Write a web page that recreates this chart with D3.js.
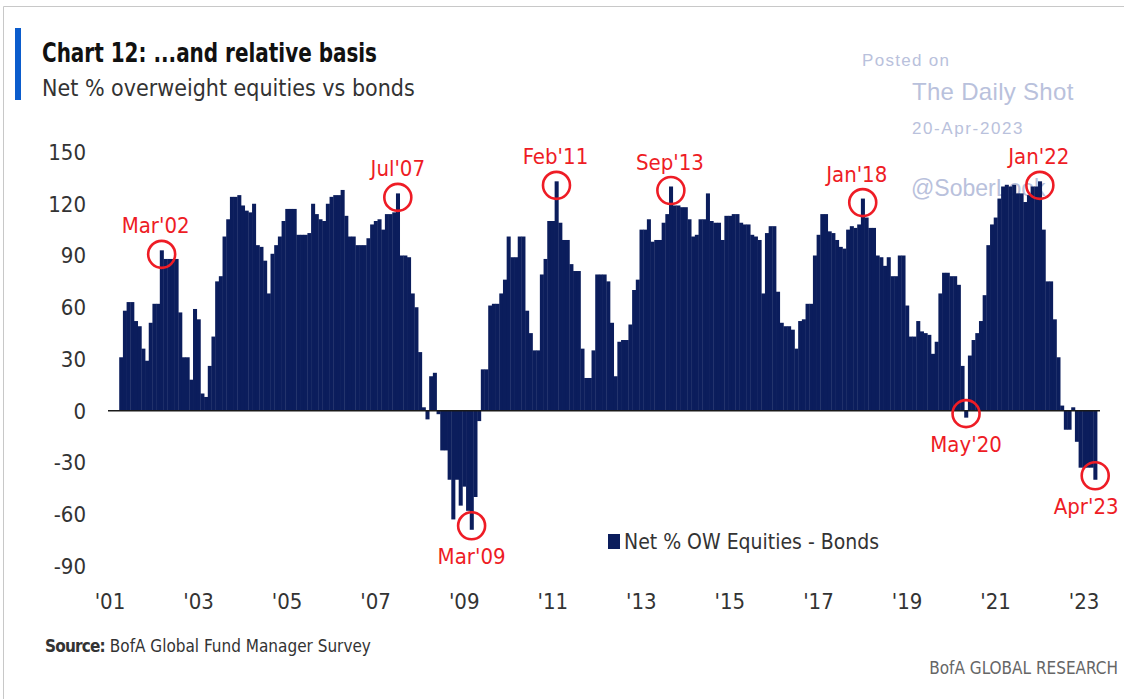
<!DOCTYPE html>
<html>
<head>
<meta charset="utf-8">
<script src="https://cdn.jsdelivr.net/npm/d3@7"></script>
<style>
  html, body { margin: 0; padding: 0; background: #fff; }
  svg { display: block; }
  .nar { font-family: "Liberation Sans Narrow", "DejaVu Sans Condensed", "Arial Narrow", sans-serif; }
  .wm { font-family: "Liberation Sans", Arial, sans-serif; }
</style>
</head>
<body>
<svg id="chart" width="1124" height="699"></svg>
<script>
// ---- Data (monthly, Apr 2001 .. Apr 2023) ----
const seriesName = "Net % OW Equities - Bonds";
const startYear = 2001, startMonth = 4;       // first data month (April 2001)
const netOW = [
  // 2001 Apr-Dec
  31, 58, 63, 63, 52, 49, 36, 29, 51,
  // 2002
  62, 62, 93, 88, 88, 88, 88, 57, 31, 31, 18, 59,
  // 2003
  53, 10, 8, 26, 43, 75, 78, 101, 111, 124, 124, 125,
  // 2004
  119, 116, 115, 120, 96, 95, 87, 68, 91, 96, 101, 110,
  // 2005
  117, 117, 117, 102, 102, 102, 103, 120, 114, 111, 110, 120,
  // 2006
  124, 125, 125, 128, 113, 101, 101, 96, 96, 96, 100, 108,
  // 2007
  110, 111, 105, 114, 114, 115, 126, 90, 90, 89, 68, 60,
  // 2008
  34, 2, -5, 20, 22, -2, -23, -23, -40, -63, -40, -55,
  // 2009
  -44, -58, -69, -50, -6, 24, 24, 61, 62, 62, 68, 76,
  // 2010
  101, 89, 89, 101, 101, 58, 45, 35, 35, 79, 88, 110,
  // 2011
  110, 133, 109, 99, 99, 85, 81, 81, 36, 19, 19, 35,
  // 2012
  79, 79, 79, 75, 51, 20, 40, 41, 41, 50, 70, 76,
  // 2013
  105, 105, 111, 98, 99, 99, 109, 114, 130, 119, 119, 118,
  // 2014
  118, 111, 101, 102, 111, 111, 126, 110, 109, 109, 99, 113,
  // 2015
  113, 114, 114, 109, 108, 108, 102, 101, 99, 68, 103, 107,
  // 2016
  107, 69, 51, 49, 49, 47, 36, 52, 53, 62, 62, 90,
  // 2017
  102, 114, 114, 104, 103, 99, 95, 94, 105, 107, 106, 108,
  // 2018
  123, 112, 106, 106, 90, 89, 84, 89, 78, 78, 90, 90,
  // 2019
  61, 43, 43, 52, 46, 45, 44, 33, 40, 68, 80, 80,
  // 2020
  78, 78, 73, 26, -4, 32, 41, 45, 52, 67, 96, 108,
  // 2021
  112, 123, 130, 131, 130, 131, 126, 126, 121, 125, 130, 130,
  // 2022
  133, 105, 75, 75, 53, 31, 3, -11, -11, 2, -18, -33,
  // 2023 Jan-Apr
  -33, -33, -33, -40
];
const yTicks = [150, 120, 90, 60, 30, 0, -30, -60, -90];
const xTickYears = [2001, 2003, 2005, 2007, 2009, 2011, 2013, 2015, 2017, 2019, 2021, 2023];
const xTickLabels = ["'01", "'03", "'05", "'07", "'09", "'11", "'13", "'15", "'17", "'19", "'21", "'23"];
// annotated months: [label, year, month, position, label dx]
const annotations = [
  ["Mar'02", 2002, 3, "above", -6],
  ["Jul'07", 2007, 7, "above", 0],
  ["Mar'09", 2009, 3, "below", 0],
  ["Feb'11", 2011, 2, "above", -1],
  ["Sep'13", 2013, 9, "above", -1],
  ["Jan'18", 2018, 1, "above", -6],
  ["May'20", 2020, 5, "below", 0],
  ["Jan'22", 2022, 1, "above", -1],
  ["Apr'23", 2023, 4, "below", -9]
];

// ---- Build month categories ----
const key = (y, m) => y + "-" + String(m).padStart(2, "0");
const allMonths = [];
for (let y = 2001; y <= 2023; y++) {
  for (let m = 1; m <= 12; m++) {
    if (y === 2023 && m > 4) break;
    allMonths.push(key(y, m));
  }
}
const data = netOW.map((v, i) => {
  const idx = (startMonth - 1) + i;
  const y = startYear + Math.floor(idx / 12), m = (idx % 12) + 1;
  return { k: key(y, m), v };
});
const valueOf = new Map(data.map(d => [d.k, d.v]));

// ---- Layout ----
const svg = d3.select("#chart");
const barColor = "#0b1d5c";
const red = "#ee1c25";

const x = d3.scaleBand().domain(allMonths).range([108.15, 1097.05]).paddingInner(0).paddingOuter(0);
const y = d3.scaleLinear().domain([-90, 150]).range([566, 152]);
const bw = x.bandwidth();
const cx = k => x(k) + bw / 2;

// frame (top and left edges)
svg.append("path").attr("d", "M3.5,699 V6.5 H1124")
  .attr("fill", "none").attr("stroke", "#c8c8c8").attr("stroke-width", 1);

// title block
svg.append("rect").attr("x", 15).attr("y", 28).attr("width", 6).attr("height", 72).attr("fill", "#0b5ccc");
svg.append("text").attr("class", "nar").attr("x", 42).attr("y", 62)
  .attr("font-size", 27).attr("font-weight", "bold").attr("fill", "#111")
  .attr("textLength", 335).attr("lengthAdjust", "spacingAndGlyphs")
  .text("Chart 12: ...and relative basis");
svg.append("text").attr("class", "nar").attr("x", 42).attr("y", 96)
  .attr("font-size", 23).attr("fill", "#333").text("Net % overweight equities vs bonds");

// watermark (behind bars)
const wm = svg.append("g").attr("class", "wm").attr("fill", "#b9c1dc");
wm.append("text").attr("x", 862).attr("y", 66).attr("font-size", 17).attr("letter-spacing", 1.3).text("Posted on");
wm.append("text").attr("x", 912).attr("y", 100).attr("font-size", 24).attr("letter-spacing", 0.3).text("The Daily Shot");
wm.append("text").attr("x", 912).attr("y", 134).attr("font-size", 17).attr("letter-spacing", 1.6).text("20-Apr-2023");
wm.append("text").attr("x", 911).attr("y", 196).attr("font-size", 23).text("@SoberLook");

// y axis labels
svg.append("g").attr("class", "nar").selectAll("text").data(yTicks).join("text")
  .attr("x", 86).attr("y", d => y(d)).attr("dy", "0.36em").attr("text-anchor", "end")
  .attr("font-size", 22).attr("fill", "#333").text(d => d);

// x axis labels
svg.append("g").attr("class", "nar").selectAll("text").data(xTickYears).join("text")
  .attr("x", d => cx(key(d, 1))).attr("y", 609).attr("text-anchor", "middle")
  .attr("font-size", 22).attr("fill", "#333").text((d, i) => xTickLabels[i]);

// bars
svg.append("g").selectAll("rect").data(data).join("rect")
  .attr("x", d => x(d.k)).attr("width", bw + 0.35)
  .attr("y", d => Math.min(y(d.v), y(0)))
  .attr("height", d => Math.abs(y(d.v) - y(0)))
  .attr("fill", barColor);

// zero line
svg.append("line").attr("x1", 108).attr("x2", 1100).attr("y1", y(0)).attr("y2", y(0))
  .attr("stroke", "#1a1a1a").attr("stroke-width", 1.5);

// annotations
const ann = svg.append("g").attr("class", "nar");
annotations.forEach(([label, yr, mo, pos, dx]) => {
  const k = key(yr, mo);
  const v = valueOf.get(k);
  const px = cx(k);
  const py = y(v) + (v >= 0 ? 4 : -4);
  ann.append("circle").attr("cx", px).attr("cy", py).attr("r", 13.5)
    .attr("fill", "none").attr("stroke", red).attr("stroke-width", 2.6);
  ann.append("text").attr("x", px + dx).attr("y", pos === "above" ? py - 21 : py + 38)
    .attr("text-anchor", "middle").attr("font-size", 22).attr("fill", red).text(label);
});

// legend
const lg = svg.append("g").attr("class", "nar");
lg.append("rect").attr("x", 608).attr("y", 534).attr("width", 12).attr("height", 15).attr("fill", barColor);
lg.append("text").attr("x", 624).attr("y", 549).attr("font-size", 21).attr("fill", "#333").text(seriesName);

// source & footer
const src = svg.append("text").attr("class", "nar").attr("x", 45).attr("y", 652).attr("font-size", 17).attr("fill", "#333");
src.append("tspan").attr("font-weight", "bold").attr("letter-spacing", -0.8).text("Source:");
src.append("tspan").text("  BofA Global Fund Manager Survey");
svg.append("text").attr("class", "nar").attr("x", 1118).attr("y", 674).attr("text-anchor", "end")
  .attr("font-size", 17).attr("fill", "#666").text("BofA GLOBAL RESEARCH");
</script>
</body>
</html>
